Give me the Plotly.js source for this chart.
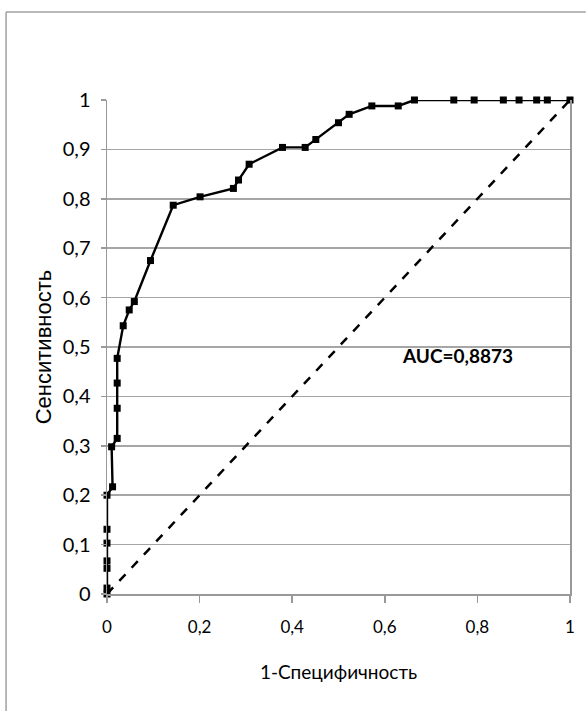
<!DOCTYPE html>
<html>
<head>
<meta charset="utf-8">
<script src="https://cdn.plot.ly/plotly-3.0.1.min.js"></script>
<style>
html,body{margin:0;padding:0;background:#fff;overflow:hidden;}
#chart{width:586px;height:711px;}
</style>
</head>
<body>
<div id="chart"></div>
<script>
// 1 - specificity (false positive rate)
var fpr = [0, 0, 0, 0, 0, 0, 0, 0.012, 0.01, 0.022, 0.022, 0.022, 0.022, 0.035, 0.048, 0.059, 0.094,
           0.143, 0.201, 0.273, 0.284, 0.307, 0.379, 0.428, 0.451, 0.5, 0.523, 0.572, 0.629, 0.664,
           0.749, 0.793, 0.856, 0.89, 0.928, 0.951, 1];
// sensitivity (true positive rate)
var tpr = [0, 0.012, 0.052, 0.067, 0.103, 0.131, 0.2, 0.217, 0.298, 0.315, 0.376, 0.427, 0.477, 0.543, 0.575, 0.592, 0.675,
           0.787, 0.804, 0.821, 0.838, 0.870, 0.904, 0.904, 0.920, 0.954, 0.971, 0.988, 0.988, 1,
           1, 1, 1, 1, 1, 1, 1];
var refX = [0, 1];
var refY = [0, 1];
var aucText = 'AUC=0,8873';
var xTitle = '1-Специфичность';
var yTitle = 'Сенситивность';

var fam = 'Lato, "Open Sans", sans-serif';

var traces = [
  {
    x: refX, y: refY, mode: 'lines', type: 'scatter',
    line: {color: '#000', width: 2.5, dash: 'dash'},
    hoverinfo: 'skip', showlegend: false, cliponaxis: false
  },
  {
    x: fpr, y: tpr, mode: 'lines+markers', type: 'scatter',
    line: {color: '#000', width: 2.4},
    marker: {symbol: 'square', size: 7, color: '#000'},
    showlegend: false, cliponaxis: false
  }
];

var layout = {
  width: 586, height: 711,
  margin: {l: 107, r: 16, t: 100, b: 117},
  paper_bgcolor: '#fff', plot_bgcolor: '#fff',
  separators: ', ',
  showlegend: false,
  xaxis: {
    range: [0, 1], dtick: 0.2, tick0: 0,
    showgrid: false, zeroline: false,
    showline: true, linecolor: '#999', linewidth: 1.5,
    ticks: 'outside', ticklen: 7, tickcolor: '#999', tickwidth: 1.5,
    ticklabelstandoff: 10,
    tickfont: {family: fam, size: 17, color: '#000'},
    title: {text: xTitle, font: {family: fam, size: 19, color: '#000'}, standoff: 30}
  },
  yaxis: {
    range: [0, 1], dtick: 0.1, tick0: 0,
    showgrid: true, gridcolor: '#a6a6a6', gridwidth: 1.5,
    zeroline: false,
    showline: true, mirror: true, linecolor: '#999', linewidth: 1.5,
    ticks: 'outside', ticklen: 5, tickcolor: '#999', tickwidth: 1.5,
    ticklabelstandoff: 6,
    tickfont: {family: fam, size: 20, color: '#000'},
    title: {text: yTitle, font: {family: '"Liberation Sans", Arial, sans-serif', size: 22, color: '#000'}, standoff: 5}
  },
  annotations: [{
    x: 0.758, y: 0.483, xref: 'x', yref: 'y', text: '<b>' + aucText + '</b>',
    showarrow: false, font: {family: fam, size: 19, color: '#000'}
  }],
  shapes: [
    {type: 'line', xref: 'paper', yref: 'paper', x0: -0.218, x1: 1.034, y0: 1.178, y1: 1.178,
     line: {color: '#a0a0a0', width: 1.5}, layer: 'below'},
    {type: 'line', xref: 'paper', yref: 'paper', x0: -0.218, x1: -0.218, y0: -0.24, y1: 1.178,
     line: {color: '#a0a0a0', width: 1.5}, layer: 'below'}
  ]
};

Plotly.newPlot('chart', traces, layout, {displayModeBar: false, staticPlot: true});
</script>
</body>
</html>
